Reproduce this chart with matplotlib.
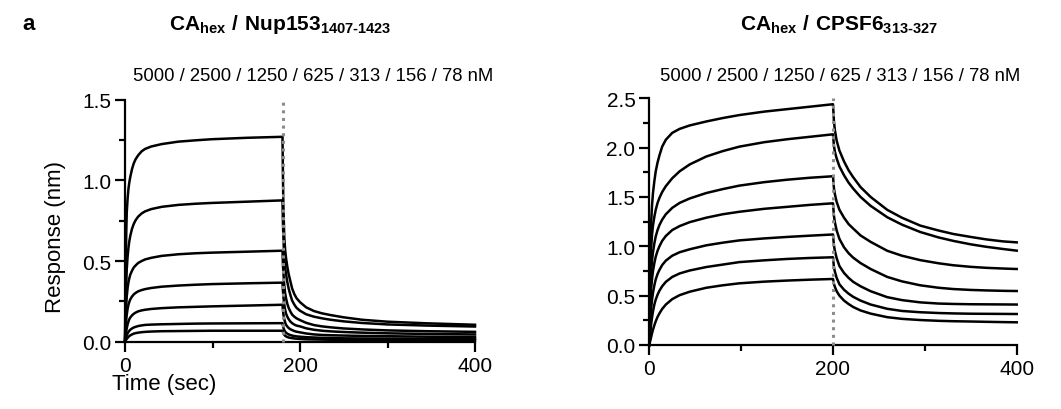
import matplotlib
matplotlib.use('Agg')
import matplotlib.pyplot as plt
from matplotlib.ticker import MultipleLocator

plt.rcParams['font.family'] = ['Liberation Sans', 'DejaVu Sans']
plt.rcParams['mathtext.fontset'] = 'custom'
plt.rcParams['mathtext.rm'] = 'Liberation Sans'
plt.rcParams['mathtext.bf'] = 'Liberation Sans:bold'

# --- data (response in nm) ---
conc_text = '5000 / 2500 / 1250 / 625 / 313 / 156 / 78 nM'

# CA_hex / Nup153 : association 0-180 s, dissociation 180-400 s
nup_t_on = [0, 0.5, 1, 1.5, 2, 3, 4, 5, 6, 8, 10, 12, 15, 19, 23, 30, 42, 61, 80, 99, 140, 180]
nup_on = [
    [0, 0.30, 0.53, 0.69, 0.80, 0.89, 0.95, 0.99, 1.02, 1.07, 1.105, 1.13, 1.155, 1.18, 1.195,
     1.21, 1.225, 1.24, 1.248, 1.255, 1.264, 1.27],
    [0, 0.15, 0.28, 0.37, 0.45, 0.53, 0.585, 0.625, 0.655, 0.70, 0.73, 0.752, 0.775, 0.795, 0.808,
     0.822, 0.836, 0.848, 0.855, 0.86, 0.868, 0.876],
    [0, 0.09, 0.175, 0.235, 0.28, 0.335, 0.37, 0.395, 0.415, 0.44, 0.46, 0.472, 0.488, 0.50, 0.51,
     0.52, 0.532, 0.542, 0.548, 0.552, 0.558, 0.564],
    [0, 0.055, 0.104, 0.14, 0.167, 0.205, 0.23, 0.248, 0.262, 0.28, 0.293, 0.302, 0.312, 0.32,
     0.326, 0.333, 0.341, 0.348, 0.353, 0.357, 0.362, 0.366],
    [0, 0.025, 0.048, 0.067, 0.083, 0.108, 0.126, 0.14, 0.15, 0.163, 0.173, 0.18, 0.188, 0.194,
     0.198, 0.203, 0.208, 0.213, 0.216, 0.219, 0.224, 0.229],
    [0, 0.01, 0.02, 0.031, 0.04, 0.052, 0.061, 0.068, 0.074, 0.082, 0.088, 0.092, 0.097, 0.101,
     0.104, 0.106, 0.108, 0.11, 0.112, 0.113, 0.114, 0.115],
    [0, 0.005, 0.01, 0.014, 0.017, 0.024, 0.03, 0.035, 0.039, 0.045, 0.05, 0.053, 0.056, 0.059,
     0.061, 0.063, 0.065, 0.066, 0.067, 0.068, 0.068, 0.068],
]
nup_t_off = [180, 180.5, 181, 182, 183, 184, 185.5, 187, 189, 191, 193.5, 196, 200, 207, 216,
             225, 235, 250, 271, 300, 345, 400]
nup_off = [
    [1.27, 1.03, 0.85, 0.65, 0.57, 0.52, 0.465, 0.42, 0.375, 0.33, 0.295, 0.27, 0.245, 0.213,
     0.19, 0.176, 0.165, 0.151, 0.136, 0.124, 0.114, 0.105],
    [0.876, 0.74, 0.65, 0.52, 0.46, 0.42, 0.37, 0.33, 0.29, 0.255, 0.23, 0.21, 0.192, 0.17,
     0.155, 0.145, 0.136, 0.126, 0.116, 0.107, 0.10, 0.094],
    [0.564, 0.48, 0.43, 0.35, 0.30, 0.27, 0.235, 0.21, 0.187, 0.168, 0.155, 0.145, 0.134, 0.117,
     0.103, 0.095, 0.089, 0.082, 0.076, 0.070, 0.065, 0.061],
    [0.366, 0.315, 0.28, 0.23, 0.198, 0.175, 0.155, 0.14, 0.125, 0.115, 0.106, 0.10, 0.095,
     0.083, 0.074, 0.068, 0.064, 0.06, 0.056, 0.052, 0.048, 0.045],
    [0.229, 0.195, 0.17, 0.14, 0.12, 0.105, 0.094, 0.085, 0.077, 0.072, 0.066, 0.062, 0.058,
     0.051, 0.045, 0.042, 0.040, 0.038, 0.036, 0.034, 0.031, 0.029],
    [0.115, 0.10, 0.088, 0.072, 0.063, 0.056, 0.05, 0.045, 0.041, 0.038, 0.035, 0.033, 0.031,
     0.028, 0.026, 0.024, 0.023, 0.021, 0.020, 0.019, 0.018, 0.017],
    [0.068, 0.06, 0.052, 0.043, 0.037, 0.033, 0.029, 0.026, 0.024, 0.022, 0.020, 0.019, 0.017,
     0.015, 0.014, 0.013, 0.012, 0.011, 0.010, 0.009, 0.0085, 0.008],
]

# CA_hex / CPSF6 : association 0-200 s, dissociation 200-400 s
cpsf_t_on = [0, 1, 2, 3, 4, 5.5, 7, 9, 11, 14, 18, 25, 33, 44, 62, 80, 98, 125, 150, 175, 200]
cpsf_on = [
    [0, 0.85, 1.24, 1.42, 1.54, 1.66, 1.76, 1.85, 1.92, 2.01, 2.08, 2.15, 2.19, 2.225, 2.265,
     2.30, 2.33, 2.365, 2.39, 2.415, 2.44],
    [0, 0.62, 0.98, 1.12, 1.21, 1.30, 1.37, 1.44, 1.49, 1.55, 1.61, 1.69, 1.76, 1.83, 1.91,
     1.965, 2.01, 2.055, 2.085, 2.11, 2.135],
    [0, 0.45, 0.74, 0.86, 0.94, 1.03, 1.10, 1.165, 1.215, 1.27, 1.325, 1.39, 1.44, 1.485, 1.54,
     1.58, 1.615, 1.65, 1.675, 1.695, 1.71],
    [0, 0.33, 0.57, 0.67, 0.75, 0.83, 0.895, 0.955, 1.0, 1.055, 1.105, 1.165, 1.205, 1.245, 1.29,
     1.325, 1.35, 1.38, 1.40, 1.42, 1.436],
    [0, 0.20, 0.37, 0.46, 0.53, 0.605, 0.665, 0.72, 0.76, 0.81, 0.855, 0.905, 0.94, 0.97, 1.01,
     1.037, 1.06, 1.08, 1.095, 1.108, 1.12],
    [0, 0.11, 0.21, 0.28, 0.34, 0.41, 0.46, 0.51, 0.55, 0.595, 0.64, 0.69, 0.725, 0.755, 0.79,
     0.815, 0.84, 0.858, 0.872, 0.882, 0.889],
    [0, 0.04, 0.08, 0.12, 0.155, 0.2, 0.24, 0.285, 0.32, 0.365, 0.41, 0.465, 0.505, 0.54, 0.58,
     0.605, 0.625, 0.642, 0.653, 0.662, 0.669],
]
cpsf_t_off = [200, 201, 202, 204, 207, 212, 217, 222, 230, 241, 259, 275, 295, 315, 331, 350,
              367, 385, 400]
cpsf_off = [
    [2.44, 2.27, 2.18, 2.07, 1.97, 1.86, 1.77, 1.70, 1.60, 1.50, 1.37, 1.29, 1.21, 1.16, 1.125,
     1.095, 1.07, 1.05, 1.04],
    [2.135, 2.02, 1.96, 1.89, 1.81, 1.72, 1.645, 1.585, 1.50, 1.41, 1.295, 1.22, 1.145, 1.09,
     1.055, 1.02, 0.995, 0.973, 0.956],
    [1.71, 1.59, 1.53, 1.45, 1.37, 1.29, 1.225, 1.18, 1.11, 1.045, 0.955, 0.905, 0.86, 0.828,
     0.808, 0.792, 0.782, 0.775, 0.77],
    [1.436, 1.31, 1.245, 1.16, 1.075, 0.99, 0.93, 0.885, 0.83, 0.77, 0.69, 0.645, 0.605, 0.58,
     0.567, 0.558, 0.553, 0.549, 0.547],
    [1.12, 1.01, 0.955, 0.88, 0.80, 0.73, 0.68, 0.64, 0.595, 0.545, 0.485, 0.455, 0.432, 0.42,
     0.416, 0.413, 0.412, 0.411, 0.41],
    [0.889, 0.79, 0.745, 0.68, 0.615, 0.56, 0.52, 0.488, 0.45, 0.41, 0.367, 0.345, 0.332, 0.324,
     0.32, 0.317, 0.316, 0.315, 0.314],
    [0.669, 0.62, 0.59, 0.545, 0.50, 0.45, 0.415, 0.385, 0.35, 0.318, 0.282, 0.265, 0.253, 0.245,
     0.241, 0.238, 0.235, 0.232, 0.23],
]

W, H = 1061, 410
fig = plt.figure(figsize=(W / 100, H / 100), dpi=100)


def style_axes(ax, ymax, ystep):
    ax.set_xlim(0, 400)
    ax.set_ylim(0, ymax)
    for s in ['top', 'right']:
        ax.spines[s].set_visible(False)
    for s in ['left', 'bottom']:
        ax.spines[s].set_linewidth(1.6)
    ax.xaxis.set_major_locator(MultipleLocator(200))
    ax.xaxis.set_minor_locator(MultipleLocator(100))
    ax.yaxis.set_major_locator(MultipleLocator(ystep))
    ax.yaxis.set_minor_locator(MultipleLocator(ystep / 2))
    ax.yaxis.set_major_formatter(plt.FormatStrFormatter('%.1f'))
    ax.tick_params(which='major', length=7, width=1.6, labelsize=15, pad=3)
    ax.tick_params(which='minor', length=4.5, width=1.6)


def draw(ax, t_on, on, t_off, off, t_switch, ymax):
    ax.plot([t_switch, t_switch], [0, ymax], color='#8c8c8c', ls=(0, (1, 1.5)),
            lw=2.2, zorder=3, clip_on=False)
    for a, d in zip(on, off):
        ax.plot(t_on + t_off, a + d, color='black', lw=1.8, clip_on=False, zorder=2,
                solid_joinstyle='round')


ax1 = fig.add_axes([125 / W, 1 - 342.7 / H, 350 / W, 242 / H])
style_axes(ax1, 1.5, 0.5)
draw(ax1, nup_t_on, nup_on, nup_t_off, nup_off, 180, 1.5)

ax2 = fig.add_axes([649.3 / W, 1 - 346 / H, 367.4 / W, 246.7 / H])
style_axes(ax2, 2.5, 0.5)
draw(ax2, cpsf_t_on, cpsf_on, cpsf_t_off, cpsf_off, 200, 2.5)

# labels
fig.text(55 / W, 1 - 237 / H, 'Response (nm)', rotation=90, ha='center', va='center',
         fontsize=16)
fig.text(112 / W, 1 - 385 / H, 'Time (sec)', ha='left', va='center', fontsize=16)

fig.text(313 / W, 1 - 77 / H, conc_text, ha='center', va='center', fontsize=13.3)
fig.text(840 / W, 1 - 77 / H, conc_text, ha='center', va='center', fontsize=13.3)

fig.text(22 / W, 1 - 25 / H, 'a', ha='left', va='center', fontsize=16, fontweight='bold')
fig.text(280 / W, 1 - 25 / H, r'$\mathbf{CA_{hex}\ /\ Nup153_{1407‐1423}}$',
         ha='center', va='center', fontsize=15)
fig.text(839 / W, 1 - 25 / H, r'$\mathbf{CA_{hex}\ /\ CPSF6_{313‐327}}$',
         ha='center', va='center', fontsize=15)

fig.savefig('out.png', dpi=100)
